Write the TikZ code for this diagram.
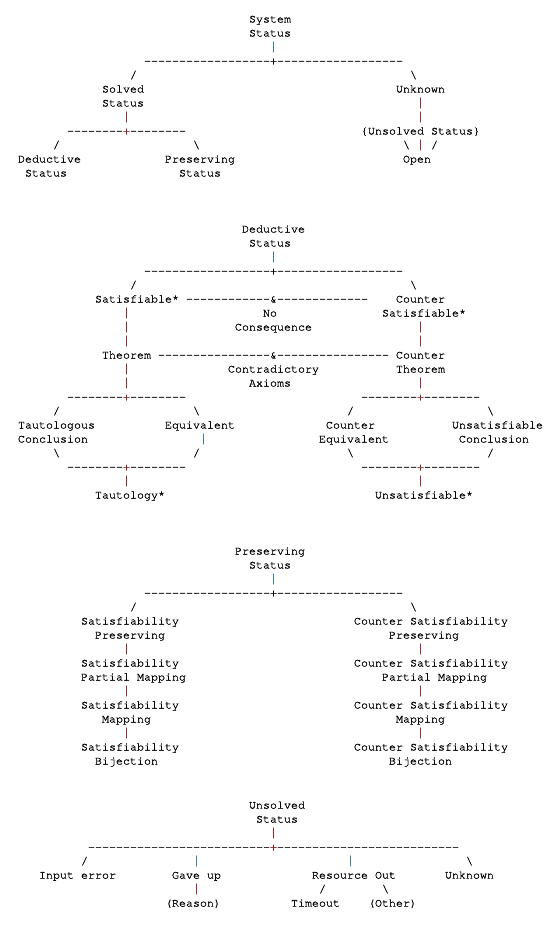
\documentclass[tikz,border=0pt]{standalone}
\usepackage{fontspec}
\setmonofont[Ligatures={NoCommon},FakeBold=0.9]{TeX Gyre Cursor}
\newfontfamily\barfont{Liberation Mono}
\ExplSyntaxOn
\cs_new:Npn \dsh #1 {\prg_replicate:nn{#1}{-}}
\ExplSyntaxOff
\definecolor{barteal}{RGB}{55,120,150}
\definecolor{barred}{RGB}{150,30,30}
\tikzset{txt/.style={anchor=base west,inner sep=0pt,outer sep=0pt,font=\ttfamily\fontsize{11.67}{14}\selectfont}}
% \mytx[colour]{name}{column}{row}{text}
\newcommand\mytx[5][black]{\node[txt,text=#1] (#2) at ({18+7*#3},{-(22.5+14*#4)}) {#5};}
\newcommand\bs{\textbackslash}
\newcommand\vb{{\barfont|}}
\begin{document}
\begin{tikzpicture}[x=1pt,y=1pt]
\useasboundingbox (0,0) rectangle (559,-939);
\fill[white] (0,0) rectangle (559,-939);
% ---------------- Section 1
\mytx{s1a}{33}{0}{System}
\mytx{s1b}{33}{1}{Status}
\mytx[barteal]{s1c}{36}{2}{\vb}
\mytx{s1d}{18}{3}{\dsh{18}}
\mytx{s1e}{36}{3}{+}
\mytx{s1f}{37}{3}{\dsh{18}}
\mytx{s1g}{16}{4}{/}
\mytx{s1h}{56}{4}{\bs}
\mytx{s1i}{12}{5}{Solved}
\mytx{s1j}{54}{5}{Unknown}
\mytx{s1k}{12}{6}{Status}
\mytx[barred]{s1l}{57}{6}{\vb}
\mytx[barred]{s1m}{15}{7}{\vb}
\mytx[barred]{s1n}{57}{7}{\vb}
\mytx{s1o}{7}{8}{\dsh{8}}
\mytx[barred]{s1p}{15}{8}{+}
\mytx{s1q}{16}{8}{\dsh{8}}
\mytx{s1r}{49}{8}{\{Unsolved Status\}}
\mytx{s1s}{5}{9}{/}
\mytx{s1t}{25}{9}{\bs}
\mytx{s1u}{55}{9}{\bs}
\mytx[barred]{s1v}{57}{9}{\vb}
\mytx{s1w}{59}{9}{/}
\mytx{s1x}{0}{10}{Deductive}
\mytx{s1y}{21}{10}{Preserving}
\mytx{s1z}{55}{10}{Open}
\mytx{s1A}{1}{11}{Status}
\mytx{s1B}{23}{11}{Status}
% ---------------- Section 2
\mytx{d1}{32}{15}{Deductive}
\mytx{d2}{33}{16}{Status}
\mytx[barteal]{d3}{36}{17}{\vb}
\mytx{d4}{18}{18}{\dsh{18}}
\mytx{d5}{36}{18}{+}
\mytx{d6}{37}{18}{\dsh{18}}
\mytx{d7}{16}{19}{/}
\mytx{d8}{56}{19}{\bs}
\mytx{d9}{11}{20}{Satisfiable*}
\mytx{d10}{24}{20}{\dsh{12}}
\mytx{d11}{36}{20}{\&}
\mytx{d12}{37}{20}{\dsh{13}}
\mytx{d13}{54}{20}{Counter}
\mytx[barred]{d14}{15}{21}{\vb}
\mytx{d15}{35}{21}{No}
\mytx{d16}{52}{21}{Satisfiable*}
\mytx[barred]{d17}{15}{22}{\vb}
\mytx{d18}{31}{22}{Consequence}
\mytx[barred]{d19}{57}{22}{\vb}
\mytx[barred]{d20}{15}{23}{\vb}
\mytx[barred]{d21}{57}{23}{\vb}
\mytx{d22}{12}{24}{Theorem}
\mytx{d23}{20}{24}{\dsh{16}}
\mytx{d24}{36}{24}{\&}
\mytx{d25}{37}{24}{\dsh{16}}
\mytx{d26}{54}{24}{Counter}
\mytx[barred]{d27}{15}{25}{\vb}
\mytx{d28}{30}{25}{Contradictory}
\mytx{d29}{54}{25}{Theorem}
\mytx[barred]{d30}{15}{26}{\vb}
\mytx{d31}{33}{26}{Axioms}
\mytx[barred]{d32}{57}{26}{\vb}
\mytx{d33}{7}{27}{\dsh{8}}
\mytx[barred]{d34}{15}{27}{+}
\mytx{d35}{16}{27}{\dsh{8}}
\mytx{d36}{49}{27}{\dsh{8}}
\mytx[barred]{d37}{57}{27}{+}
\mytx{d38}{58}{27}{\dsh{8}}
\mytx{d39}{5}{28}{/}
\mytx{d40}{25}{28}{\bs}
\mytx{d41}{47}{28}{/}
\mytx{d42}{67}{28}{\bs}
\mytx{d43}{0}{29}{Tautologous}
\mytx{d44}{21}{29}{Equivalent}
\mytx{d45}{44}{29}{Counter}
\mytx{d46}{62}{29}{Unsatisfiable}
\mytx{d47}{0}{30}{Conclusion}
\mytx[barteal]{d48}{26}{30}{\vb}
\mytx{d49}{43}{30}{Equivalent}
\mytx{d50}{63}{30}{Conclusion}
\mytx{d51}{5}{31}{\bs}
\mytx{d52}{25}{31}{/}
\mytx{d53}{47}{31}{\bs}
\mytx{d54}{67}{31}{/}
\mytx{d55}{7}{32}{\dsh{8}}
\mytx[barred]{d56}{15}{32}{+}
\mytx{d57}{16}{32}{\dsh{8}}
\mytx{d58}{49}{32}{\dsh{8}}
\mytx[barred]{d59}{57}{32}{+}
\mytx{d60}{58}{32}{\dsh{8}}
\mytx[barred]{d61}{15}{33}{\vb}
\mytx[barred]{d62}{57}{33}{\vb}
\mytx{d63}{11}{34}{Tautology*}
\mytx{d64}{51}{34}{Unsatisfiable*}
% ---------------- Section 3
\mytx{p1}{31}{38}{Preserving}
\mytx{p2}{33}{39}{Status}
\mytx[barteal]{p3}{36}{40}{\vb}
\mytx{p4}{18}{41}{\dsh{18}}
\mytx{p5}{36}{41}{+}
\mytx{p6}{37}{41}{\dsh{18}}
\mytx{p7}{16}{42}{/}
\mytx{p8}{56}{42}{\bs}
\mytx{p9}{9}{43}{Satisfiability}
\mytx{p10}{48}{43}{Counter Satisfiability}
\mytx{p11}{11}{44}{Preserving}
\mytx{p12}{53}{44}{Preserving}
\mytx[barred]{p13}{15}{45}{\vb}
\mytx[barred]{p14}{57}{45}{\vb}
\mytx{p15}{9}{46}{Satisfiability}
\mytx{p16}{48}{46}{Counter Satisfiability}
\mytx{p17}{9}{47}{Partial Mapping}
\mytx{p18}{52}{47}{Partial Mapping}
\mytx[barred]{p19}{15}{48}{\vb}
\mytx[barred]{p20}{57}{48}{\vb}
\mytx{p21}{9}{49}{Satisfiability}
\mytx{p22}{48}{49}{Counter Satisfiability}
\mytx{p23}{12}{50}{Mapping}
\mytx{p24}{54}{50}{Mapping}
\mytx[barred]{p25}{15}{51}{\vb}
\mytx[barred]{p26}{57}{51}{\vb}
\mytx{p27}{9}{52}{Satisfiability}
\mytx{p28}{48}{52}{Counter Satisfiability}
\mytx{p29}{11}{53}{Bijection}
\mytx{p30}{53}{53}{Bijection}
% ---------------- Section 4
\mytx{u1}{33}{56.15}{Unsolved}
\mytx{u2}{34}{57.15}{Status}
\mytx[barred]{u3}{36}{58.15}{\vb}
\mytx{u4}{10}{59.15}{\dsh{26}}
\mytx[barred]{u5}{36}{59.15}{+}
\mytx{u6}{37}{59.15}{\dsh{26}}
\mytx{u7}{9}{60.15}{/}
\mytx[barteal]{u8}{25}{60.15}{\vb}
\mytx[barteal]{u9}{47}{60.15}{\vb}
\mytx{u10}{64}{60.15}{\bs}
\mytx{u11}{3}{61.15}{Input error}
\mytx{u12}{22}{61.15}{Gave up}
\mytx{u13}{42}{61.15}{Resource Out}
\mytx{u14}{61}{61.15}{Unknown}
\mytx[barred]{u15}{25}{62.15}{\vb}
\mytx{u16}{43}{62.15}{/}
\mytx{u17}{52}{62.15}{\bs}
\mytx{u18}{21}{63.15}{(Reason)}
\mytx{u19}{39}{63.15}{Timeout}
\mytx{u20}{50}{63.15}{(Other)}
\end{tikzpicture}
\end{document}
